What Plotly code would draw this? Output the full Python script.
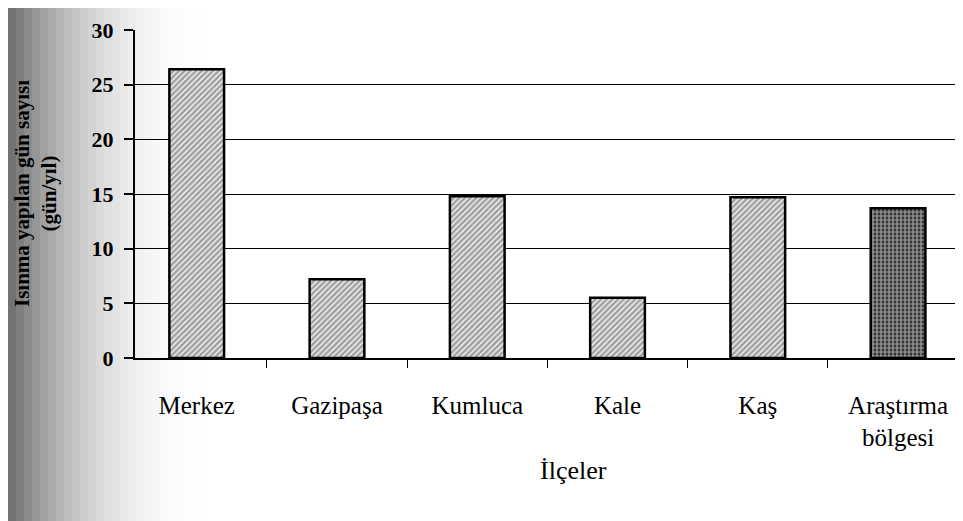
import plotly.graph_objects as go

categories = ["Merkez", "Gazipaşa", "Kumluca", "Kale", "Kaş", "Araştırma<br>bölgesi"]
values = [26.4, 7.2, 14.8, 5.5, 14.7, 13.7]
y_ticks = [0, 5, 10, 15, 20, 25, 30]

patterns = ["/", "/", "/", "/", "/", "."]
fills = ["white"] * 5 + ["#151515"]
fgs = ["black"] * 5 + ["#7a7a7a"]

SERIF = "Liberation Serif"

fig = go.Figure()
fig.add_trace(go.Bar(
    x=categories, y=values, width=0.39,
    marker=dict(color=fills, line=dict(color="black", width=2.5),
                pattern=dict(shape=patterns, fgcolor=fgs, bgcolor=fills, size=4, solidity=0.7)),
))

# scan shading on the left side
L = 127
W = 963 - L
grad = []
n = 26
for i in range(n):
    op = 0.72 * (1 - i / n) ** 2.4
    grad.append(dict(type="rect", xref="paper", yref="paper", layer="below",
                     x0=(i * 8 - L) / W, x1=((i + 1) * 8 - L) / W,
                     y0=-1, y1=1.2, fillcolor=f"rgba(60,60,60,{op:.3f})", line_width=0))

fig.update_layout(
    width=963, height=521,
    margin=dict(l=L, r=0, t=22, b=171),
    paper_bgcolor="white", plot_bgcolor="rgba(0,0,0,0)",
    showlegend=False, shapes=grad,
    font=dict(family=SERIF, color="black"),
    xaxis=dict(type="category", range=[-0.44, 5.52], tickson="boundaries", ticks="outside", ticklen=8,
               tickcolor="black", showgrid=False, showline=True, linecolor="black", linewidth=1.5,
               tickfont=dict(size=25, family=SERIF, color="black"), ticklabelstandoff=24),
    yaxis=dict(range=[0, 30], tickvals=y_ticks, ticktext=[f"<b>{v}</b>" for v in y_ticks],
               ticks="outside", ticklen=9, tickcolor="black",
               tickwidth=1.5, showgrid=True, gridcolor="black", gridwidth=1,
               showline=True, linecolor="black", linewidth=2, zeroline=False,
               tickfont=dict(size=22, family=SERIF), ticklabelstandoff=6),
    annotations=[
        dict(text="<b>Isınma yapılan gün sayısı<br>(gün/yıl)</b>", xref="paper", yref="paper",
             x=0, y=0.5, xanchor="center", yanchor="middle", xshift=-100, textangle=-90,
             showarrow=False, font=dict(size=21, family=SERIF, color="black")),
        dict(text="İlçeler", xref="paper", yref="paper", x=0.525, y=0, yshift=-112,
             yanchor="middle", showarrow=False, font=dict(size=26, family=SERIF)),
    ],
)
fig.write_html("out.html")
